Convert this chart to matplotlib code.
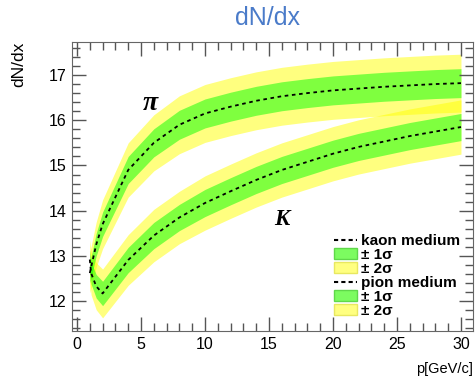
import matplotlib
matplotlib.use("Agg")
import numpy as np
from matplotlib import pyplot as plt
from matplotlib.lines import Line2D
from matplotlib.patches import Patch
from matplotlib.ticker import MultipleLocator

# momentum points (GeV/c)
p = [1, 1.1, 1.5, 2, 4, 6, 8, 10, 12, 14, 16, 18, 20, 22, 24, 26, 28, 30]

# pion dN/dx and sigma
pion = [12.62, 12.75, 13.25, 13.70, 14.90, 15.50, 15.90, 16.15, 16.30, 16.43,
        16.53, 16.60, 16.66, 16.70, 16.74, 16.77, 16.80, 16.82]
pion_sigma = [0.22, 0.23, 0.25, 0.27, 0.30, 0.31, 0.32, 0.32, 0.32, 0.32,
              0.32, 0.32, 0.32, 0.32, 0.32, 0.32, 0.32, 0.32]

# kaon dN/dx and sigma
kaon = [12.92, 12.62, 12.33, 12.17, 12.91, 13.45, 13.85, 14.17, 14.43, 14.68,
        14.90, 15.08, 15.26, 15.41, 15.53, 15.65, 15.75, 15.85]
kaon_sigma = [0.22, 0.24, 0.26, 0.27, 0.28, 0.29, 0.29, 0.30, 0.30, 0.30,
              0.30, 0.30, 0.30, 0.30, 0.30, 0.30, 0.30, 0.30]

plt.rcParams["font.family"] = ["Liberation Sans", "DejaVu Sans"]

fig = plt.figure(figsize=(4.75, 3.81), dpi=100)
ax = fig.add_axes([0.1516, 0.1312, 0.8442, 0.7586])

yellow = (1.0, 1.0, 0.0, 0.5)
green = (0.0, 1.0, 0.0, 0.5)

for mean, sig in [(kaon, kaon_sigma), (pion, pion_sigma)]:
    m = np.array(mean)
    s = np.array(sig)
    ax.fill_between(p, m - 2 * s, m + 2 * s, color=yellow, lw=0)
for mean, sig in [(kaon, kaon_sigma), (pion, pion_sigma)]:
    m = np.array(mean)
    s = np.array(sig)
    ax.fill_between(p, m - s, m + s, color=green, lw=0)
    ax.plot(p, m, color="black", ls=(0, (2, 2)), lw=1.3)

ax.set_xlim(-0.39, 30.94)
ax.set_ylim(11.34, 17.73)
ax.xaxis.set_major_locator(MultipleLocator(5))
ax.xaxis.set_minor_locator(MultipleLocator(1))
ax.yaxis.set_major_locator(MultipleLocator(1))
ax.yaxis.set_minor_locator(MultipleLocator(0.2))
ax.tick_params(which="both", direction="in", top=True, right=True,
               color="#555555", labelsize=11.5, pad=4)
ax.tick_params(which="major", length=10, width=1)
ax.tick_params(which="minor", length=6, width=1)
for s in ax.spines.values():
    s.set_color("#666666")

ax.text(5.74, 16.37, "π", fontsize=20, ha="center", va="center",
        fontfamily="Liberation Serif", fontweight="bold", fontstyle="italic")
ax.text(16.0, 13.81, "K", fontsize=16.5, ha="center", va="center",
        fontfamily="Liberation Serif", fontweight="bold", fontstyle="italic")

fig.text(0.564, 0.953, "dN/dx", color="#4a7bc9", fontsize=18, ha="center", va="center")
fig.text(0.04, 0.89, "dN/dx", rotation=90, fontsize=12.5, ha="center", va="top")
fig.text(0.996, 0.031, "p[GeV/c]", fontsize=10.5, ha="right", va="center")

handles = [
    Line2D([], [], color="black", ls=(0, (2, 1.5)), lw=1.5),
    Patch(facecolor="#7cfc60", edgecolor="#5fd84a"),
    Patch(facecolor="#ffff80", edgecolor="#e8e860"),
    Line2D([], [], color="black", ls=(0, (2, 1.5)), lw=1.5),
    Patch(facecolor="#7cfc60", edgecolor="#5fd84a"),
    Patch(facecolor="#ffff80", edgecolor="#e8e860"),
]
labels = ["kaon medium", "± 1σ", "± 2σ", "pion medium", "± 1σ", "± 2σ"]
leg = ax.legend(handles, labels, loc="lower left", bbox_to_anchor=(0.626, 0.008),
                frameon=False, handlelength=1.5, handleheight=0.7,
                labelspacing=0.0, handletextpad=0.3, borderpad=0.2,
                prop={"weight": "bold", "size": 11})

fig.savefig("out.png", dpi=100)
